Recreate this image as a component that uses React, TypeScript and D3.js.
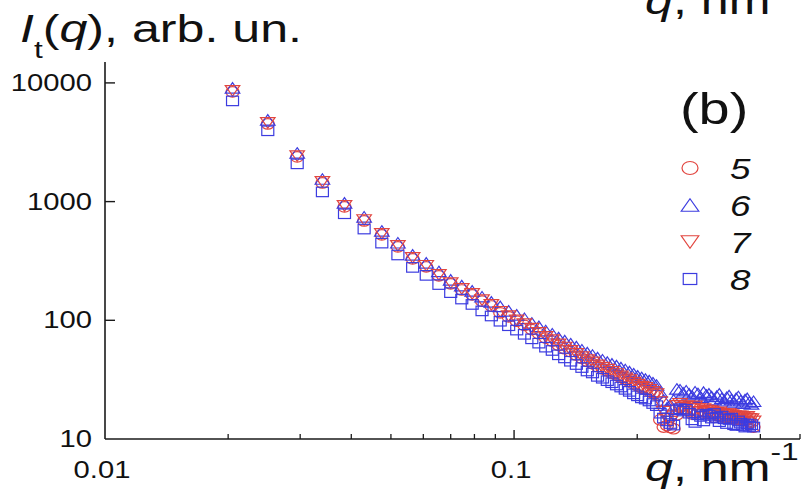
import React from "react";
import * as d3 from "d3";

// ---------- data ----------
const qValues = [
  0.0205, 0.025, 0.0295, 0.034, 0.0385, 0.043, 0.0475, 0.052, 0.0565, 0.061,
  0.0655, 0.07, 0.0745, 0.079, 0.0835, 0.088, 0.0925, 0.097, 0.1015, 0.106,
  0.1105, 0.115, 0.1195, 0.124, 0.1285, 0.133, 0.1375, 0.142, 0.1465, 0.151,
  0.1555, 0.16, 0.1645, 0.169, 0.1735, 0.178, 0.1825, 0.187, 0.1915, 0.196,
  0.2005, 0.205, 0.2095, 0.214, 0.2185, 0.223, 0.2275, 0.232, 0.2365, 0.241,
  0.2455, 0.25, 0.2545, 0.259, 0.2635, 0.268, 0.2725, 0.277, 0.2815, 0.286,
  0.2905, 0.295, 0.2995, 0.304, 0.3085, 0.313, 0.3175, 0.322, 0.3265, 0.331,
  0.3355, 0.34, 0.3445, 0.349, 0.3535, 0.358, 0.3625, 0.367, 0.3715, 0.376,
  0.3805, 0.385,
];

const series5 = [
  8400, 4510, 2380, 1436, 902, 687, 524, 415, 329, 282, 237, 203, 180, 164, 145, 132,
  115.7, 106.8, 98.2, 90.6, 83.6, 77, 70.8, 66.8, 61.5, 57.6, 54.4, 51, 47.9, 45.1,
  43.2, 40.7, 39, 37.5, 35.8, 34.5, 33, 31.7, 30.5, 29.1, 28, 27, 26.3, 25.3, 24.4, 23.4,
  14.5, 12.6, 13.0, 12.5, 12.2, 16.0,
  18.5, 17.8, 18.0, 17.2, 16.2, 17.9, 17.0, 16.2, 17.0, 16.6, 16.5, 16.4, 15.2, 15.8,
  16.0, 15.6, 15.2, 15.5, 15.4, 15.0, 14.8, 14.7, 14.8, 14.6, 14.3, 14.2, 14.5, 14.0, 13.8, 12.6,
];

const series6 = [
  9080, 4880, 2570, 1550, 975, 745, 566, 450, 356, 305, 258, 219, 196, 177, 158, 143,
  131, 120, 111, 104, 95, 89, 82, 77, 71.5, 67.5, 63.5, 60, 56.5, 53.5,
  51, 48.5, 46.5, 44.5, 43, 41.5, 40, 38.5, 37, 35.5, 34, 33, 32, 31, 29.8, 28.5,
  24.9, 21.3, 18.3, 19.4, 21.3, 26.4,
  26.0, 24.5, 25.5, 24.0, 23.0, 25.0, 24.2, 22.5, 24.8, 23.5, 24.0, 22.8, 21.5, 23.0,
  24.0, 22.0, 21.0, 22.5, 23.2, 21.5, 20.5, 22.0, 22.8, 21.0, 20.0, 21.5, 22.0, 20.5, 19.8, 20.8,
];

const series7 = [
  8560, 4600, 2420, 1465, 920, 700, 534, 423, 336, 288, 241, 206, 184, 167, 148, 135,
  118, 108.6, 100, 92.7, 85, 78.3, 72.4, 68, 62.6, 59, 55.3, 52.2, 49, 46.2,
  44.2, 41.7, 39.9, 38.4, 36.7, 35.3, 33.7, 32.5, 31.3, 29.8, 28.7, 27.6, 27, 26, 24.9, 23.9,
  20.5, 17.0, 14.8, 14.0, 15.5, 19.0,
  19.8, 18.4, 18.9, 18.0, 16.8, 18.8, 17.9, 16.9, 17.9, 17.4, 17.3, 17.1, 15.9, 16.6,
  16.8, 16.3, 16.0, 16.2, 16.2, 15.9, 15.6, 15.4, 15.5, 15.5, 15.2, 15.0, 15.4, 14.8, 14.7, 14.1,
];

const series8 = [
  7055, 3950, 2080, 1207, 790, 587, 447, 355, 279, 239, 200, 171, 151, 136, 120, 108.7,
  98.2, 90, 82.7, 76.2, 69.8, 64.2, 59.4, 55.7, 51.2, 48.2, 45.2, 42.4, 40, 37.4,
  36, 33.7, 32.5, 31, 29.8, 28.5, 27.4, 26.2, 25.2, 24, 23.1, 22.2, 21.7, 20.9, 19.9, 19.1,
  16.5, 15.0, 14.2, 13.5, 13.1, 17.6,
  18.0, 17.2, 17.8, 16.5, 14.5, 13.8, 16.0, 15.5, 14.2, 16.2, 15.8, 15.0, 16.4, 15.2,
  14.0, 15.6, 14.8, 13.5, 14.6, 15.0, 13.2, 13.0, 14.2, 13.6, 13.0, 12.6, 13.4, 12.8, 13.2, 12.6,
];

const seriesNames = ["5", "6", "7", "8"];
const xMajorTicks = [0.01, 0.1];
const xMinorTicks = [0.02, 0.03, 0.04, 0.05, 0.06, 0.07, 0.08, 0.09, 0.2, 0.3, 0.4, 0.5];
const xTickLabels = ["0.01", "0.1"];
const yTicks = [10, 100, 1000, 10000];
const yTickLabels = ["10", "100", "1000", "10000"];

// ---------- drawing ----------
const RED = "#e2453f";
const BLUE = "#3c3ce0";
const FONT = "'Liberation Sans', Arial, sans-serif";

type Shape = "circle" | "up" | "down" | "square";

function Marker({ shape, x, y, w, h, color }: { shape: Shape; x: number; y: number; w: number; h: number; color: string }) {
  const common = { fill: "none", stroke: color, strokeWidth: 1.2 };
  if (shape === "circle") return <ellipse cx={x} cy={y} rx={w / 2} ry={h / 2} {...common} />;
  if (shape === "square") return <rect x={x - w / 2} y={y - h / 2} width={w} height={h} {...common} />;
  if (shape === "up")
    return <path d={`M${x},${y - h / 2}L${x + w / 2},${y + h / 2}L${x - w / 2},${y + h / 2}Z`} {...common} />;
  return <path d={`M${x - w / 2},${y - h / 2}L${x + w / 2},${y - h / 2}L${x},${y + h / 2}Z`} {...common} />;
}

export default function App() {
  const x = d3.scaleLog().domain([0.01, 0.5]).range([105, 800]);
  const y = d3.scaleLog().domain([10, 15000]).range([439, 62]);

  const series = [
    { name: seriesNames[0], values: series5, shape: "circle" as Shape, color: RED, dw: 13, dh: 10.5, lw: 16, lh: 13 },
    { name: seriesNames[1], values: series6, shape: "up" as Shape, color: BLUE, dw: 14.5, dh: 10.5, lw: 17.5, lh: 12.5 },
    { name: seriesNames[2], values: series7, shape: "down" as Shape, color: RED, dw: 14.5, dh: 10.5, lw: 17.5, lh: 12.5 },
    { name: seriesNames[3], values: series8, shape: "square" as Shape, color: BLUE, dw: 12, dh: 9.5, lw: 13.5, lh: 11 },
  ];

  const x0 = x.range()[0];
  const y0 = y.range()[0];
  const stretch = 1.27;

  return (
    <svg
      width={801}
      height={493}
      style={{ position: "absolute", left: 0, top: 0, background: "#fff" }}
      fontFamily={FONT}
    >
      <rect x={0} y={0} width={801} height={493} fill="#fff" />

      {/* clipped label of the panel above */}
      <g transform={`translate(645,14) scale(1.32,1)`}>
        <text fontSize={38} fill="#111">
          <tspan fontStyle="italic">q</tspan>
          <tspan>, nm</tspan>
        </text>
      </g>

      {/* y title */}
      <g transform={`translate(20,42) scale(1.32,1)`}>
        <text fontSize={38} fill="#111">
          <tspan fontStyle="italic">I</tspan>
          <tspan fontSize={24} dy={16}>t</tspan>
          <tspan dy={-16}>(</tspan>
          <tspan fontStyle="italic">q</tspan>
          <tspan>), arb. un.</tspan>
        </text>
      </g>

      {/* data */}
      {series.map((s) => (
        <g key={s.name}>
          {s.values.map((v, i) => (
            <Marker key={i} shape={s.shape} x={x(qValues[i])} y={y(v)} w={s.dw} h={s.dh} color={s.color} />
          ))}
        </g>
      ))}

      {/* axes */}
      <line x1={x0} x2={x0} y1={y.range()[1]} y2={y0} stroke="#1a1a1a" strokeWidth={1.6} />
      <line x1={x0} x2={x.range()[1]} y1={y0} y2={y0} stroke="#1a1a1a" strokeWidth={1.6} />
      {yTicks.map((t, i) => (
        <g key={t}>
          {i > 0 && <line x1={x0} x2={x0 + 10} y1={y(t)} y2={y(t)} stroke="#1a1a1a" strokeWidth={1.4} />}
          <g transform={`translate(92,${y(t) + 8}) scale(${stretch},1)`}>
            <text fontSize={23} textAnchor="end" fill="#111">{yTickLabels[i]}</text>
          </g>
        </g>
      ))}
      {xMajorTicks.map((t, i) => (
        <g key={t}>
          {i > 0 && <line x1={x(t)} x2={x(t)} y1={y0} y2={y0 - 9} stroke="#1a1a1a" strokeWidth={1.4} />}
          <g transform={`translate(${x(t) - 3},478) scale(${stretch},1)`}>
            <text fontSize={23} textAnchor="middle" fill="#111">{xTickLabels[i]}</text>
          </g>
        </g>
      ))}
      {xMinorTicks.map((t) => (
        <line key={t} x1={x(t)} x2={x(t)} y1={y0} y2={y0 - 5} stroke="#1a1a1a" strokeWidth={1.3} />
      ))}

      {/* x title */}
      <g transform={`translate(645,481) scale(1.32,1)`}>
        <text fontSize={38} fill="#111">
          <tspan fontStyle="italic">q</tspan>
          <tspan>, nm</tspan>
          <tspan fontSize={24} dy={-21}>-1</tspan>
        </text>
      </g>

      {/* panel tag */}
      <g transform={`translate(680,124) scale(${stretch},1)`}>
        <text fontSize={44} fill="#111">(b)</text>
      </g>

      {/* legend */}
      {series.map((s, i) => {
        const cy = 168 + i * 37;
        return (
          <g key={s.name}>
            <Marker shape={s.shape} x={690} y={cy} w={s.lw} h={s.lh} color={s.color} />
            <g transform={`translate(730,${cy + 11}) scale(${stretch},1)`}>
              <text fontSize={29} fontStyle="italic" fill="#111">{s.name}</text>
            </g>
          </g>
        );
      })}
    </svg>
  );
}
